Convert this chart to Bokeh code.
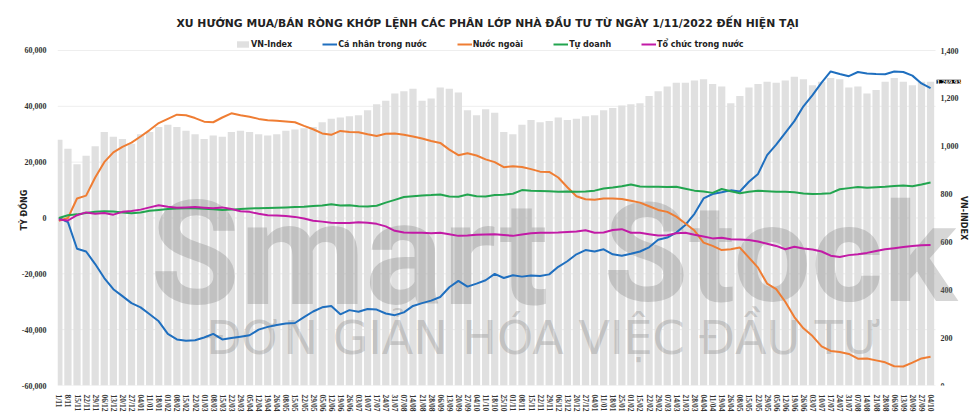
import math
from bokeh.plotting import figure
from bokeh.models import (Range1d, FixedTicker, Legend, LegendItem,
                          Label, NumeralTickFormatter, ColumnDataSource)
from bokeh.core.properties import value
from bokeh.embed import file_html
from bokeh.resources import INLINE

# ---------------- data (weekly samples) ----------------
week_labels = ["1/11", "8/11", "15/11", "22/11", "29/11", "06/12", "13/12", "20/12", "27/12",
               "04/01", "11/01", "18/01", "01/02", "08/02", "15/02", "22/02", "01/03", "08/03",
               "15/03", "22/03", "29/03", "05/04", "12/04", "19/04", "26/04", "08/05", "15/05",
               "22/05", "29/05", "05/06", "12/06", "19/06", "26/06", "03/07", "10/07", "17/07",
               "24/07", "31/07", "07/08", "14/08", "21/08", "28/08", "06/09", "13/09", "20/09",
               "27/09", "04/10", "11/10", "18/10", "25/10", "01/11", "08/11", "15/11", "22/11",
               "29/11", "06/12", "13/12", "20/12", "27/12",
               "04/01", "11/01", "18/01", "25/01", "01/02", "15/02", "22/02", "29/02", "07/03",
               "14/03", "21/03", "28/03", "04/04", "11/04", "19/04", "26/04", "08/05", "15/05",
               "22/05", "29/05", "05/06", "12/06", "19/06", "26/06", "03/07", "10/07", "17/07",
               "24/07", "31/07", "07/08", "14/08", "21/08", "28/08", "06/09", "13/09", "20/09",
               "27/09", "04/10"]

vn_index = [1027, 990, 925, 960, 1000, 1060, 1040, 1030, 1010, 1050, 1060, 1080, 1090, 1080,
            1065, 1050, 1030, 1045, 1040, 1060, 1065, 1060, 1050, 1045, 1050, 1065, 1070, 1075,
            1080, 1100, 1115, 1120, 1125, 1130, 1150, 1175, 1190, 1220, 1230, 1240, 1190, 1200,
            1245, 1240, 1225, 1150, 1130, 1155, 1140, 1060, 1050, 1090, 1110, 1100, 1105, 1120,
            1110, 1115, 1125, 1130, 1150, 1160, 1170, 1175, 1180, 1210, 1230, 1250, 1265, 1265,
            1275, 1280, 1260, 1250, 1180, 1210, 1245, 1260, 1270, 1265, 1275, 1290, 1280, 1255,
            1270, 1285, 1280, 1245, 1250, 1220, 1235, 1270, 1285, 1270, 1255, 1270, 1269.93]

ca_nhan = [0, -1500, -11000, -12000, -16500, -21500, -25500, -28000, -30500, -32000, -34500,
           -37000, -41500, -43500, -44000, -43800, -42800, -41500, -43500, -43000, -42500,
           -42000, -40000, -39000, -38300, -37800, -37600, -35500, -33500, -32000, -31500,
           -34500, -33000, -33600, -32600, -32800, -34200, -34800, -33800, -31500, -30500,
           -29600, -28300, -24800, -22500, -24600, -23500, -22300, -20000, -21500, -20500,
           -21000, -20600, -20800, -20200, -17500, -15500, -13000, -11500, -12000, -11200,
           -13000, -13500, -12800, -12000, -10500, -7800, -7000, -5200, -2500, 1500, 7000,
           8600, 9200, 9900, 9500, 13000, 15800, 22500, 26300, 30500, 34700, 40000, 44000,
           48500, 52500, 51600, 50800, 52300, 51800, 51600, 51500, 52500, 52300, 51000,
           48200, 46500]

nuoc_ngoai = [-1000, 0, 7000, 8000, 14500, 20000, 23500, 25500, 27000, 29200, 31500, 34000,
              35500, 37000, 36800, 35800, 34500, 34300, 36000, 37500, 36800, 36300, 35500,
              35000, 34800, 34600, 34300, 33000, 31800, 30300, 29800, 31200, 30800, 30700,
              30000, 29400, 30200, 30300, 29800, 29200, 28500, 27600, 26900, 24500, 22500,
              23200, 22400, 21000, 20000, 18200, 18500, 18300, 17500, 16600, 16500, 14500,
              11000, 7800, 6700, 6500, 7000, 7000, 6800, 6200, 5500, 4200, 2900, 2200, 500,
              -2000, -4500, -8800, -10000, -11500, -11200, -10600, -14200, -17800, -23500,
              -25500, -30000, -35500, -39500, -42300, -46000, -47600, -48000, -48700, -50400,
              -50300, -51000, -51700, -53100, -53200, -51800, -50300, -49700]

tu_doanh = [0, 1000, 1300, 1800, 2200, 2400, 2300, 2000, 1700, 2000, 2600, 2900, 3200, 3400,
            3500, 3500, 3300, 3100, 2900, 3000, 3200, 3400, 3500, 3600, 3700, 3800, 3900, 4000,
            4300, 4500, 4900, 4500, 4600, 4200, 4100, 4400, 5500, 6500, 7500, 7800, 8100, 8200,
            8400, 7700, 7600, 8400, 7800, 7700, 8200, 8300, 8700, 10000, 9800, 9700, 9600, 9400,
            9500, 9400, 9500, 9800, 10600, 10900, 11400, 12000, 11300, 11200, 11200, 11100,
            11200, 10500, 9800, 9500, 9000, 10400, 9600, 8900, 9400, 9800, 9600, 9400, 9400,
            9200, 8800, 8600, 8700, 8900, 10300, 10700, 11100, 10800, 11000, 11200, 11500,
            11600, 11400, 12000, 12700]

to_chuc = [-500, -900, 1000, 2000, 1500, 1800, 1200, 2200, 2500, 3000, 3800, 4600, 4000, 3700,
           3800, 3900, 3700, 3500, 3800, 3200, 2400, 2200, 1500, 1000, 900, 700, 400, -200,
           -1000, -1300, -1700, -1800, -1800, -1500, -1700, -2100, -3000, -4600, -5200, -5300,
           -5300, -5500, -5300, -5800, -6400, -6300, -6000, -5900, -5800, -6100, -6400, -5900,
           -5500, -5300, -5300, -5200, -5000, -4800, -4400, -5300, -5200, -4300, -4000, -5300,
           -5300, -5800, -6300, -6200, -5500, -5300, -6000, -6600, -7300, -7100, -7600, -7700,
           -7900, -8400, -9200, -10000, -11200, -10300, -10900, -11300, -12000, -13500, -14000,
           -13300, -13000, -12500, -11800, -11200, -10800, -10400, -10000, -9800, -9700]

series_names = ["VN-Index", "Cá nhân trong nước", "Nước ngoài", "Tự doanh", "Tổ chức trong nước"]
left_ticks = [-60000, -40000, -20000, 0, 20000, 40000, 60000]
right_ticks = [0, 200, 400, 600, 800, 1000, 1200, 1400]
right_tick_labels = ["0", "200", "400", "600", "800", "1,000", "1,200", "1,400"]
title_text = "XU HƯỚNG MUA/BÁN RÒNG KHỚP LỆNH CÁC PHÂN LỚP NHÀ ĐẦU TƯ TỪ NGÀY 1/11/2022 ĐẾN HIỆN TẠI"
last_vni_label = "1,269.93"
watermark_words = ["Smart", "Stock"]
watermark_slogan = "ĐƠN GIẢN HÓA VIỆC ĐẦU TƯ"

# ---------------- chart ----------------
n = len(week_labels)
x = list(range(n))
src = ColumnDataSource(dict(x=x, vni=vn_index, cn=ca_nhan, nn=nuoc_ngoai, td=tu_doanh, tc=to_chuc))

FONT = "DejaVu Sans"
X0 = -0.15            # left edge of the data area
XD = n - 0.45         # right edge of the data area (where the VN-Index axis sits)
XR = n + 3.62         # frame extends further right to host the VN-Index scale texts
p = figure(width=975, height=420, output_backend="svg", toolbar_location=None,
           x_range=Range1d(X0, XR), y_range=Range1d(-60000, 65730),
           min_border_left=57, min_border_right=3, min_border_top=34, min_border_bottom=35)
p.extra_y_ranges = {"vni": Range1d(0, 1467)}
p.background_fill_color = "white"
p.outline_line_color = None

p.title.text = title_text
p.title.align = "left"
p.title.offset = 119
p.title.text_font = FONT
p.title.text_font_size = "10.8px"
p.title.text_font_style = "bold"
p.title.text_color = "#222222"

# light horizontal grid limited to the data area
p.segment(x0=[X0] * len(left_ticks), x1=[XD] * len(left_ticks), y0=left_ticks, y1=left_ticks,
          line_color="#eeeeee", line_width=1)

bars = p.vbar(x="x", top="vni", bottom=0, width=0.8, source=src, y_range_name="vni",
              fill_color="#e0e0e0", line_color=None)

# watermark (semi-transparent, as in the reference)
for wx, word, fs in zip([10.09, 59.98], watermark_words, ["145px", "138px"]):
    p.add_layout(Label(x=wx, y=-12860, text=word, text_font="Roboto", text_font_size=fs,
                       text_font_style="bold", text_color="#808080", text_alpha=0.32,
                       text_baseline="middle", level="glyph"))
p.add_layout(Label(x=16.2, y=-43160, text=watermark_slogan, text_font=FONT,
                   text_font_size="46px", text_color="#808080", text_alpha=0.32,
                   text_baseline="middle", level="glyph"))

colors = ["#1f6fbf", "#ef7d33", "#22a54f", "#c21aa6"]
r_cn = p.line("x", "cn", source=src, line_color=colors[0], line_width=2)
r_nn = p.line("x", "nn", source=src, line_color=colors[1], line_width=2)
r_td = p.line("x", "td", source=src, line_color=colors[2], line_width=2)
r_tc = p.line("x", "tc", source=src, line_color=colors[3], line_width=2)
for r in (r_cn, r_nn, r_td, r_tc):
    r.level = "overlay"

# x axis
p.xaxis.ticker = FixedTicker(ticks=x)
p.xaxis.major_label_overrides = {i: lab for i, lab in enumerate(week_labels)}
p.xaxis.major_label_orientation = "vertical"
p.xaxis.major_label_text_font = "Liberation Serif"
p.xaxis.major_label_text_font_style = "bold"
p.xaxis.major_label_text_font_size = "7.5px"
p.xaxis.major_label_text_color = "#333333"
p.xaxis.major_label_standoff = 3

# left axis
ax_l = p.yaxis[0]
ax_l.ticker = FixedTicker(ticks=left_ticks)
ax_l.formatter = NumeralTickFormatter(format="0,0")
ax_l.axis_label = "TỶ ĐỒNG"
ax_l.major_label_text_font = "Liberation Serif"
ax_l.major_label_text_font_style = "bold"
ax_l.major_label_text_font_size = "8px"
ax_l.major_label_text_color = "#333333"
ax_l.axis_label_text_font = FONT
ax_l.axis_label_text_font_size = "8px"
ax_l.axis_label_text_font_style = "bold"
ax_l.axis_label_text_color = "#222222"
ax_l.major_label_standoff = 5
ax_l.axis_label_standoff = -10
for ax in (p.xaxis[0], ax_l):
    ax.axis_line_color = None
    ax.major_tick_line_color = None
    ax.minor_tick_line_color = None
p.xgrid.grid_line_color = None
p.ygrid.grid_line_color = None

# right (VN-Index) scale, drawn at the right edge of the data area
p.text(x=[XD + 0.55] * len(right_ticks), y=right_ticks, text=right_tick_labels,
       y_range_name="vni", text_font=value("Liberation Serif"), text_font_style="bold",
       text_font_size="8px", text_color="#333333", text_align="left", text_baseline="middle")
p.add_layout(Label(x=XD + 3.08, y=0, text="VN-INDEX", angle=-math.pi / 2, text_font=FONT,
                   text_font_size="8px", text_font_style="bold", text_color="#222222",
                   text_align="center", text_baseline="middle"))

# last value tag
tag = Label(x=XD, y=vn_index[-1], y_range_name="vni", text=last_vni_label,
            x_offset=1, text_baseline="middle", text_font="Liberation Serif",
            text_font_style="bold", text_font_size="7px", text_color="white",
            background_fill_color="black", background_fill_alpha=1.0, level="overlay")
p.add_layout(tag)

legend = Legend(items=[LegendItem(label=series_names[0], renderers=[bars]),
                       LegendItem(label=series_names[1], renderers=[r_cn]),
                       LegendItem(label=series_names[2], renderers=[r_nn]),
                       LegendItem(label=series_names[3], renderers=[r_td]),
                       LegendItem(label=series_names[4], renderers=[r_tc])],
                orientation="horizontal", location=(178, 336), border_line_color=None,
                background_fill_alpha=0, label_text_font=FONT, label_text_font_size="8px",
                label_text_font_style="bold", label_text_color="#222222",
                glyph_width=15, glyph_height=8, label_height=10, label_standoff=1,
                spacing=30, padding=1, margin=0)
p.add_layout(legend)

open("out.html", "w").write(file_html(p, INLINE))
